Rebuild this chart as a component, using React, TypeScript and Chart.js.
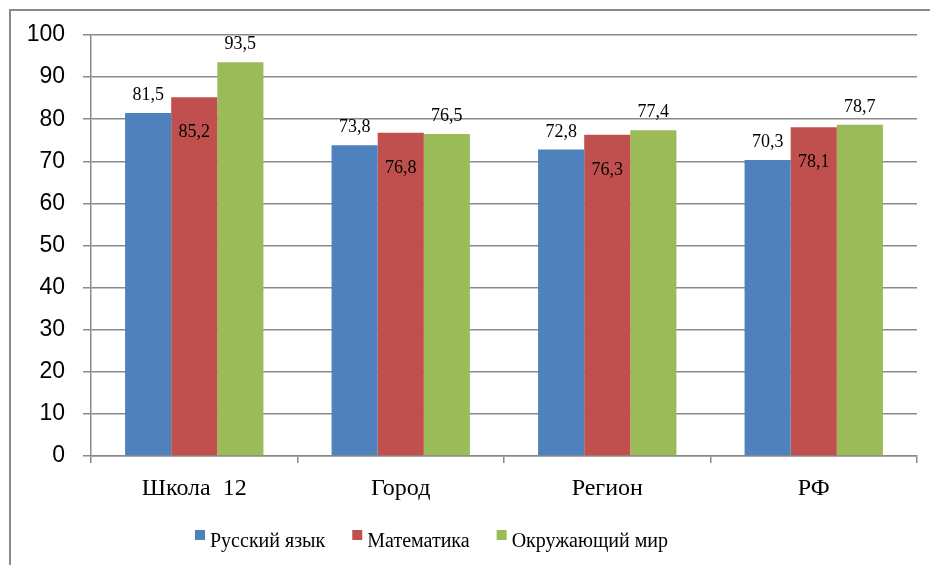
import React, { useEffect, useRef } from "react";
import { Chart, registerables } from "chart.js";

Chart.register(...registerables);

const categories = ["Школа  12", "Город", "Регион", "РФ"];
const seriesNames = ["Русский язык", "Математика", "Окружающий мир"];
const russian = [81.5, 73.8, 72.8, 70.3];
const math = [85.2, 76.8, 76.3, 78.1];
const world = [93.5, 76.5, 77.4, 78.7];
const colors = ["#4F81BD", "#C0504D", "#9BBB59"];
const yMin = 0;
const yMax = 100;
const yStep = 10;

const GRID = "#8a8a8a";
const SERIF = "'Liberation Serif', 'Times New Roman', serif";
const SANS = "'Liberation Sans', Arial, sans-serif";

const fmt = (v: number) => v.toFixed(1).replace(".", ",");

const framePlugin = {
  id: "frame",
  beforeDraw(chart: any) {
    const ctx = chart.ctx;
    ctx.save();
    ctx.fillStyle = "#ffffff";
    ctx.fillRect(0, 0, chart.width, chart.height);
    ctx.strokeStyle = GRID;
    ctx.lineWidth = 2;
    ctx.strokeRect(10, 10, chart.width + 50, chart.height + 50);
    ctx.restore();
  },
};

const labelPlugin = {
  id: "valueLabels",
  afterDatasetsDraw(chart: any) {
    const ctx = chart.ctx;
    ctx.save();
    ctx.font = `18px ${SERIF}`;
    ctx.fillStyle = "#000";
    ctx.textAlign = "center";
    ctx.textBaseline = "alphabetic";
    chart.data.datasets.forEach((ds: any, di: number) => {
      const meta = chart.getDatasetMeta(di);
      meta.data.forEach((el: any, i: number) => {
        const v = ds.data[i];
        const y = di === 1 ? el.y + 40 : el.y - 13;
        ctx.fillText(fmt(v), el.x, y);
      });
    });
    ctx.restore();
  },
};

const legendPlugin = {
  id: "customLegend",
  afterDraw(chart: any) {
    const ctx = chart.ctx;
    ctx.save();
    ctx.font = `20px ${SERIF}`;
    ctx.textBaseline = "alphabetic";
    ctx.textAlign = "left";
    let x = 195;
    const baseY = 547;
    chart.data.datasets.forEach((ds: any) => {
      ctx.fillStyle = ds.backgroundColor;
      ctx.fillRect(x, 530, 10, 10);
      x += 15;
      ctx.fillStyle = "#000";
      ctx.fillText(ds.label, x, baseY);
      x += ctx.measureText(ds.label).width + 27;
    });
    ctx.restore();
  },
};

export default function App() {
  const ref = useRef<HTMLCanvasElement | null>(null);
  useEffect(() => {
    if (!ref.current) return;
    const chart = new Chart(ref.current, {
      type: "bar",
      data: {
        labels: categories,
        datasets: [
          { label: seriesNames[0], data: russian, backgroundColor: colors[0] },
          { label: seriesNames[1], data: math, backgroundColor: colors[1] },
          { label: seriesNames[2], data: world, backgroundColor: colors[2] },
        ],
      },
      options: {
        responsive: false,
        animation: false,
        events: [],
        layout: { padding: { left: 12, right: 13, top: 35, bottom: 49 } },
        datasets: { bar: { categoryPercentage: 0.67, barPercentage: 1 } },
        plugins: {
          legend: { display: false },
          tooltip: { enabled: false },
        },
        scales: {
          x: {
            offset: true,
            grid: {
              offset: true,
              drawOnChartArea: false,
              drawTicks: true,
              tickLength: 7,
              color: GRID,
              lineWidth: 1.5,
            },
            border: { display: true, color: GRID, width: 1.5 },
            ticks: {
              font: { family: SERIF, size: 24 },
              color: "#000",
              padding: 11,
              maxRotation: 0,
            },
            afterFit: (s: any) => {
              s.height = 60;
            },
          },
          y: {
            min: yMin,
            max: yMax,
            ticks: {
              stepSize: yStep,
              font: { family: SANS, size: 23 },
              color: "#000",
              padding: 18,
            },
            grid: { color: GRID, lineWidth: 1.5, tickLength: 8 },
            border: { display: true, color: GRID, width: 1.5 },
            afterFit: (s: any) => {
              s.width = 79;
            },
          },
        },
      },
      plugins: [framePlugin, labelPlugin, legendPlugin],
    });
    return () => chart.destroy();
  }, []);
  return (
    <div style={{ position: "absolute", left: 0, top: 0, width: 930, height: 565 }}>
      <canvas ref={ref} width={930} height={565} />
    </div>
  );
}
